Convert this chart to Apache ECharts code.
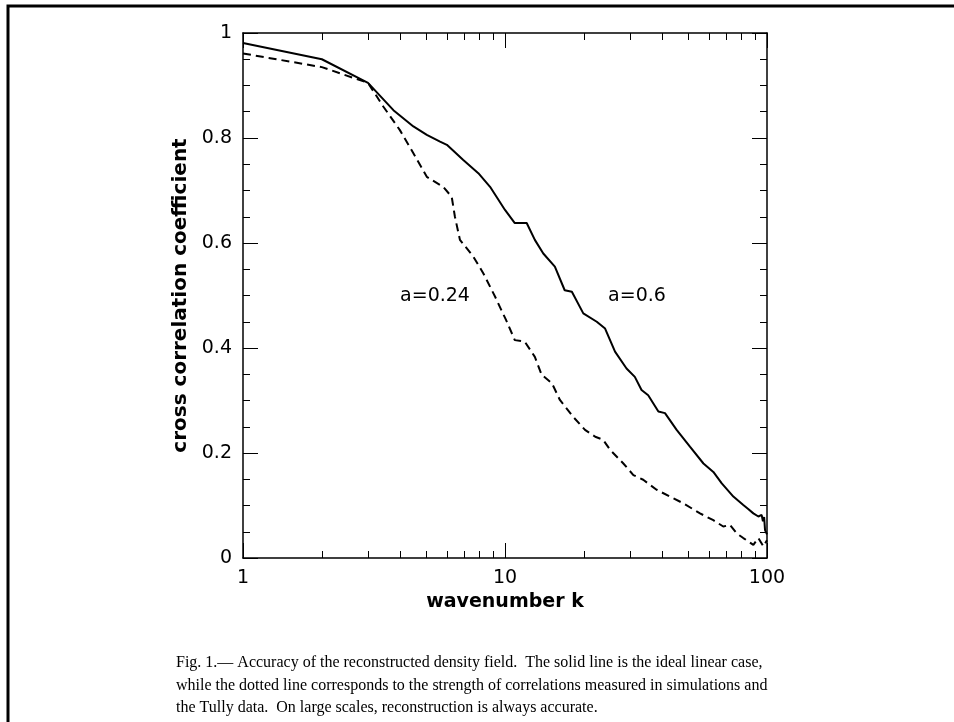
<!DOCTYPE html>
<html>
<head>
<meta charset="utf-8">
<script src="https://cdn.jsdelivr.net/npm/echarts@6/dist/echarts.min.js"></script>
<style>
html, body { margin: 0; padding: 0; background: #fff; }
#main { width: 954px; height: 722px; }
</style>
</head>
<body>
<div id="main"></div>
<script>
// solid line: ideal linear case (a=0.6)
var kSolid = [1, 2, 3, 3.75, 4.47, 5.03, 5.65, 6.0, 6.93, 7.91, 8.77, 10, 10.9, 12.1, 13.0, 14.0, 15.5, 16.9, 18.0, 19.9,
    22.4, 24.1, 26.3, 29.1, 31.3, 33.2, 35.2, 38.5, 40.8, 45.2, 50.8, 57.2, 62.4, 67.2, 74.4, 81.2, 85.0, 88.7,
    92.7, 95.4, 96.5, 97.5, 98.3, 100];
var rSolid = [0.981, 0.950, 0.905, 0.853, 0.822, 0.806, 0.793, 0.787, 0.758, 0.733, 0.707, 0.663, 0.638, 0.638, 0.606, 0.580, 0.555, 0.510, 0.507, 0.466,
    0.450, 0.437, 0.393, 0.361, 0.345, 0.320, 0.310, 0.279, 0.276, 0.244, 0.212, 0.180, 0.164, 0.142, 0.117, 0.101, 0.093, 0.085,
    0.079, 0.082, 0.070, 0.078, 0.053, 0.045];

// dashed line: a=0.24
var kDashed = [1, 2, 3, 3.43, 3.97, 4.47, 5.03, 5.81, 6.26, 6.44, 6.73, 7.57, 8.27, 9.16, 10.1, 10.9, 11.9, 13.0, 13.8, 15.1,
    16.2, 18.2, 20.2, 22.1, 23.7, 25.2, 28.3, 30.9, 33.7, 37.9, 42.6, 48.0, 55.5, 62.4, 68.1, 72.2, 76.6, 81.2,
    88.7, 92.7, 96.9, 100];
var rDashed = [0.961, 0.935, 0.905, 0.860, 0.815, 0.771, 0.726, 0.707, 0.688, 0.650, 0.606, 0.574, 0.542, 0.498, 0.453, 0.415, 0.412, 0.383, 0.349, 0.333,
    0.301, 0.269, 0.244, 0.231, 0.225, 0.206, 0.180, 0.158, 0.149, 0.130, 0.117, 0.104, 0.085, 0.072, 0.060, 0.063, 0.047, 0.038,
    0.025, 0.038, 0.022, 0.034];

var xMajorTicks = [1, 10, 100];
var xMinorTicks = [2, 3, 4, 5, 6, 7, 8, 9, 20, 30, 40, 50, 60, 70, 80, 90];
var xTickLabels = [1, 10, 100];

var caption = [
    'Fig. 1.\u2014 Accuracy of the reconstructed density field.  The solid line is the ideal linear case,',
    'while the dotted line corresponds to the strength of correlations measured in simulations and',
    'the Tully data.  On large scales, reconstruction is always accurate.'
];

var chartDom = document.getElementById('main');
var myChart = echarts.init(chartDom);
var option;

var axisColor = '#000';
var labelFont = 'DejaVu Sans';

function logAxis(pos, ticks, len, showLine, labels) {
    return {
        type: 'log',
        logBase: 10,
        min: 1,
        max: 100,
        position: pos,
        axisLine: { show: showLine, lineStyle: { color: axisColor, width: 1.5 } },
        axisTick: { show: true, inside: true, length: len, customValues: ticks, lineStyle: { color: axisColor, width: 1 } },
        axisLabel: labels ? {
            show: true, customValues: labels, margin: 11,
            fontSize: 19, fontFamily: labelFont, color: '#000'
        } : { show: false },
        splitLine: { show: false },
        minorTick: { show: false },
        minorSplitLine: { show: false }
    };
}

function valAxis(pos, labels) {
    return {
        type: 'value',
        min: 0,
        max: 1,
        interval: 0.2,
        position: pos,
        axisLine: { show: true, lineStyle: { color: axisColor, width: 1.5 } },
        axisTick: { show: true, inside: true, length: 15, lineStyle: { color: axisColor, width: 1 } },
        minorTick: { show: true, splitNumber: 4, length: 7, lineStyle: { color: axisColor, width: 1 } },
        axisLabel: labels ? { show: true, margin: 11, fontSize: 19, fontFamily: labelFont, color: '#000' } : { show: false },
        splitLine: { show: false }
    };
}

var xBottom = logAxis('bottom', xMajorTicks, 15, true, xTickLabels);
xBottom.name = 'wavenumber k';
xBottom.nameLocation = 'middle';
xBottom.nameGap = 35;
xBottom.nameTextStyle = { fontSize: 19, fontWeight: 'bold', fontFamily: labelFont, color: '#000' };

var yLeft = valAxis('left', true);
yLeft.name = 'cross correlation coefficient';
yLeft.nameLocation = 'middle';
yLeft.nameGap = 42;
yLeft.nameTextStyle = { fontSize: 20, fontWeight: 'bold', fontFamily: labelFont, color: '#000' };

var graphics = [
    { type: 'rect', shape: { x: 8, y: 6, width: 960, height: 730 }, style: { fill: 'none', stroke: '#000', lineWidth: 3 }, silent: true },
    { type: 'text', x: 435, y: 296, style: { text: 'a=0.24', font: '19px DejaVu Sans', fill: '#000', textAlign: 'center', textVerticalAlign: 'middle' } },
    { type: 'text', x: 637, y: 296, style: { text: 'a=0.6', font: '19px DejaVu Sans', fill: '#000', textAlign: 'center', textVerticalAlign: 'middle' } }
];
caption.forEach(function (line, i) {
    graphics.push({
        type: 'text', x: 176, y: 663 + i * 22.5,
        style: { text: line, font: '16px Liberation Serif', fill: '#000', textAlign: 'left', textVerticalAlign: 'middle' }
    });
});

option = {
    backgroundColor: '#fff',
    animation: false,
    grid: { left: 243, right: 187, top: 33, bottom: 164, containLabel: false },
    xAxis: [
        xBottom,
        logAxis('bottom', xMinorTicks, 7, false, null),
        logAxis('top', xMajorTicks, 15, true, null),
        logAxis('top', xMinorTicks, 7, false, null)
    ],
    yAxis: [yLeft, valAxis('right', false)],
    graphic: graphics,
    series: [{
            name: 'a=0.6',
            type: 'line',
            showSymbol: false,
            xAxisIndex: 0,
            yAxisIndex: 0,
            lineStyle: { color: '#000', width: 2 },
            data: kSolid.map(function (k, i) { return [k, rSolid[i]]; })
        },
        {
            name: 'a=0.24',
            type: 'line',
            showSymbol: false,
            xAxisIndex: 0,
            yAxisIndex: 0,
            lineStyle: { color: '#000', width: 2, type: [8, 5] },
            data: kDashed.map(function (k, i) { return [k, rDashed[i]]; })
        }
    ]
};

option && myChart.setOption(option);
</script>
</body>
</html>
